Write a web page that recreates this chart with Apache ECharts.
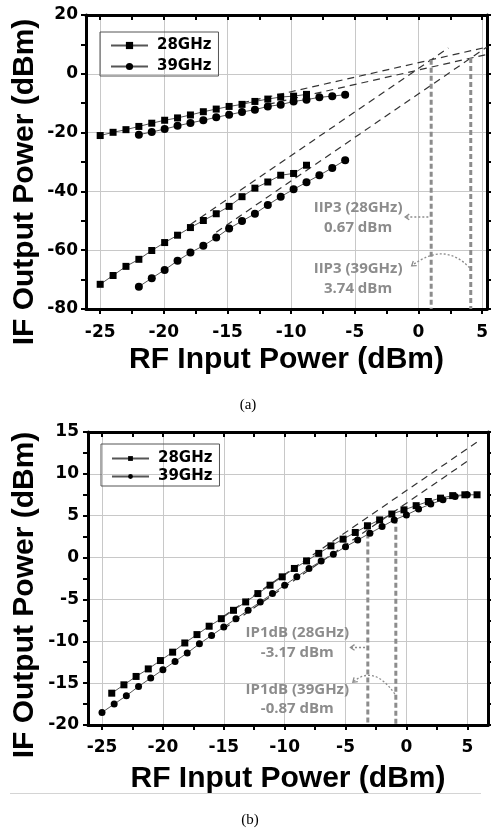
<!DOCTYPE html>
<html><head><meta charset="utf-8">
<script src="https://cdn.jsdelivr.net/npm/echarts@6/dist/echarts.min.js"></script>
<style>html,body{margin:0;padding:0;background:#fff}#c{width:491px;height:829px}</style>
</head><body><div id="c"></div>
<script>
// ================= DATA (a) : IIP3 =================
const xA28 = [-25,-24,-23,-22,-21,-20,-19,-18,-17,-16,-15,-14,-13,-12,-11,-10,-9];
const fundA28 = [-21.0,-19.9,-19.0,-17.9,-16.8,-15.8,-15.0,-14.0,-12.9,-12.0,-11.1,-10.4,-9.4,-8.6,-7.9,-7.6,-7.0];
const im3A28 = [-71.6,-68.6,-65.5,-63.1,-60.1,-57.4,-54.9,-52.3,-49.9,-47.6,-45.1,-41.8,-38.9,-36.8,-34.5,-33.9,-31.1];
const xA39 = [-22,-21,-20,-19,-18,-17,-16,-15,-14,-13,-12,-11,-10,-9,-8,-7,-6];
const fundA39 = [-20.7,-19.8,-18.8,-17.7,-16.7,-15.8,-14.8,-13.9,-13.0,-12.2,-11.1,-10.5,-9.4,-8.8,-8.0,-7.6,-7.1];
const im3A39 = [-72.4,-69.5,-66.7,-63.6,-60.8,-58.5,-55.7,-52.6,-50.1,-47.6,-44.6,-41.8,-39.3,-36.9,-34.5,-32.0,-29.4];
// extrapolated fit lines (endpoints)
const fitA28Fund = [[-14,-9.9],[5,9.1]];
const fitA39Fund = [[-12,-10.4],[5,6.6]];
const fitA28IM3 = [[-18,-51.24],[2,8.76]];
const fitA39IM3 = [[-16,-53.88],[5,9.12]];
const iip3X = [0.67, 3.74];
const iip3Y = [4.77, 5.34];
const notesA = [['IIP3 (28GHz)',-5.0,-45.4],['0.67 dBm',-5.0,-52.2],['IIP3 (39GHz)',-5.0,-66.4],['3.74 dBm',-5.0,-73.2]];
const arrowsA = [ {from:[0.45,-48.7], to:[-1.35,-48.7]}, {from:[3.65,-66.0], ctrl:[1.7,-56.9], to:[-0.84,-65.3]} ];

// ================= DATA (b) : IP1dB =================
const xB28 = [-24.2,-23.2,-22.2,-21.2,-20.2,-19.2,-18.2,-17.2,-16.2,-15.2,-14.2,-13.2,-12.2,-11.2,-10.2,-9.2,-8.2,-7.2,-6.2,-5.2,-4.2,-3.2,-2.2,-1.2,-0.2,0.8,1.8,2.8,3.8,4.8,5.8];
const poutB28 = [-16.2,-15.2,-14.2,-13.3,-12.3,-11.3,-10.2,-9.2,-8.2,-7.3,-6.3,-5.3,-4.3,-3.3,-2.3,-1.3,-0.4,0.5,1.4,2.2,3.0,3.8,4.5,5.2,5.7,6.2,6.7,7.1,7.4,7.5,7.5];
const xB39 = [-25,-24,-23,-22,-21,-20,-19,-18,-17,-16,-15,-14,-13,-12,-11,-10,-9,-8,-7,-6,-5,-4,-3,-2,-1,0,1,2,3,4,5];
const poutB39 = [-18.5,-17.5,-16.5,-15.4,-14.4,-13.4,-12.4,-11.4,-10.3,-9.3,-8.3,-7.3,-6.3,-5.3,-4.3,-3.3,-2.3,-1.3,-0.4,0.4,1.3,2.1,2.9,3.7,4.5,5.1,5.8,6.4,6.9,7.3,7.5];
const fitB28 = [[-15,-7.0],[6,14.0]];
const fitB39 = [[-15,-8.5],[5.2,11.7]];
const ip1dbX = [-3.17, -0.87];
const ip1dbY = [3.83, 4.63];
const notesB = [['IP1dB (28GHz)',-8.96,-8.95],['-3.17 dBm',-8.96,-11.34],['IP1dB (39GHz)',-8.96,-15.75],['-0.87 dBm',-8.96,-18.1]];
const arrowsB = [ {from:[-3.4,-10.74], to:[-4.6,-10.74]}, {from:[-0.95,-16.3], ctrl:[-2.7,-12.7], to:[-4.4,-14.9]} ];

const legendNames = ['28GHz','39GHz'];

// ================= AXIS RANGES =================
const AX = {min:-26.1, max:5}, AY = {min:-80, max:20, interval:20};
const BX = {min:-26.15, max:6.7}, BY = {min:-20, max:15, interval:5};
const TICK_X = {min:-25, max:5, interval:5};

// ================= LAYOUT =================
const GA = {left:86, top:15, width:401, height:294};
const GB = {left:88, top:432, width:400, height:293};
function overlay(g, r){
  const w = g.width/(r.max-r.min);
  return {left: g.left + (TICK_X.min-r.min)*w, top:g.top, width:(TICK_X.max-TICK_X.min)*w, height:g.height};
}
const OA = overlay(GA, AX), OB = overlay(GB, BX);

const tickFont = {fontFamily:'DejaVu Sans', fontWeight:'bold', fontSize:17, color:'#000'};
const titleFont = {fontFamily:'Liberation Sans, Arial', fontWeight:'bold', fontSize:30, color:'#000'};
const frameLine = {show:true, onZero:false, lineStyle:{color:'#000', width:3}};
const tickStyle = {lineStyle:{color:'#000', width:2}};
const gridLine = {show:true, lineStyle:{color:'#c8c8c8', width:1}};

function mainX(gi, r, pos, name, gap){
  const o = {gridIndex:gi, type:'value', min:r.min, max:r.max, position:pos,
    axisLine:frameLine, axisTick:{show:false}, axisLabel:{show:false}, splitLine:{show:false}};
  if (name){ Object.assign(o,{name:name, nameLocation:'middle', nameGap:gap, nameTextStyle:titleFont}); }
  return o;
}
function tickX(gi, pos, inside, margin){
  return {gridIndex:gi, type:'value', min:TICK_X.min, max:TICK_X.max, interval:TICK_X.interval, position:pos,
    axisLine:{show:false, onZero:false},
    axisTick:Object.assign({show:true, inside:inside, length:5}, tickStyle),
    minorTick:Object.assign({show:true, splitNumber:2, length:5}, tickStyle),
    axisLabel: pos==='bottom' ? Object.assign({show:true, margin:margin}, tickFont) : {show:false},
    splitLine: pos==='bottom' ? gridLine : {show:false}};
}
function mainY(gi, r, pos, margin){
  return {gridIndex:gi, type:'value', min:r.min, max:r.max, interval:r.interval, position:pos,
    axisLine:frameLine,
    axisTick:Object.assign({show:true, inside:false, length:5}, tickStyle),
    minorTick:Object.assign({show:true, splitNumber:2, length:5}, tickStyle),
    axisLabel: pos==='left' ? Object.assign({show:true, margin:margin}, tickFont) : {show:false},
    splitLine: pos==='left' ? gridLine : {show:false}};
}

const zip = (xs, ys) => xs.map((x,i)=>[x, ys[i]]);
function dataSeries(name, xs, ys, sym, size, xi, yi){
  return {name:name, type:'line', xAxisIndex:xi, yAxisIndex:yi, data:zip(xs,ys), symbol:sym, symbolSize:size,
    showSymbol:true, itemStyle:{color:'#000'}, lineStyle:{color:'#555', width:1}, z:5, silent:true};
}
function fitSeries(pts, xi, yi){
  return {name:'fit', type:'line', xAxisIndex:xi, yAxisIndex:yi, data:pts, symbol:'none',
    lineStyle:{color:'#333', width:1.2, type:[7,5]}, z:3, silent:true};
}
function vSeries(x, yTop, yBottom, xi, yi){
  return {name:'marker', type:'line', xAxisIndex:xi, yAxisIndex:yi, data:[[x,yTop],[x,yBottom]], symbol:'none',
    lineStyle:{color:'#8c8c8c', width:3, type:[5,3]}, z:4, silent:true};
}

const series = [
  fitSeries(fitA28Fund,0,0), fitSeries(fitA39Fund,0,0), fitSeries(fitA28IM3,0,0), fitSeries(fitA39IM3,0,0),
  vSeries(iip3X[0], iip3Y[0], AY.min, 0, 0), vSeries(iip3X[1], iip3Y[1], AY.min, 0, 0),
  dataSeries('28GHz', xA28, fundA28, 'rect', 7, 0, 0),
  dataSeries('28GHz', xA28, im3A28, 'rect', 7, 0, 0),
  dataSeries('39GHz', xA39, fundA39, 'circle', 8, 0, 0),
  dataSeries('39GHz', xA39, im3A39, 'circle', 8, 0, 0),
  fitSeries(fitB28,2,2), fitSeries(fitB39,2,2),
  vSeries(ip1dbX[0], ip1dbY[0], BY.min, 2, 2), vSeries(ip1dbX[1], ip1dbY[1], BY.min, 2, 2),
  dataSeries('28GHz', xB28, poutB28, 'rect', 7, 2, 2),
  dataSeries('39GHz', xB39, poutB39, 'circle', 7, 2, 2)
];

function legend(left, top, itemH, gap, pad){
  return {data:legendNames, orient:'vertical', left:left, top:top, itemWidth:37, itemHeight:itemH, itemGap:gap,
    padding:pad, borderColor:'#555', borderWidth:1, borderRadius:0, selectedMode:false,
    textStyle:{fontFamily:'DejaVu Sans', fontWeight:'bold', fontSize:15, color:'#000', padding:[0,0,0,4]}};
}

const chart = echarts.init(document.getElementById('c'));
chart.setOption({
  animation:false,
  backgroundColor:'#fff',
  grid:[GA, GB, OA, OB].map(g=>Object.assign({containLabel:false}, g)),
  xAxis:[
    mainX(0, AX, 'bottom', 'RF Input Power (dBm)', 36),
    mainX(0, AX, 'top'),
    mainX(1, BX, 'bottom', 'RF Input Power (dBm)', 39),
    mainX(1, BX, 'top'),
    tickX(2, 'bottom', false, 15),
    tickX(2, 'top', true, 0),
    tickX(3, 'bottom', false, 14),
    tickX(3, 'top', true, 0)
  ],
  yAxis:[
    mainY(0, AY, 'left', 8),
    mainY(0, AY, 'right'),
    mainY(1, BY, 'left', 9),
    mainY(1, BY, 'right'),
    {gridIndex:2, type:'value', min:0, max:1, show:false},
    {gridIndex:3, type:'value', min:0, max:1, show:false}
  ],
  legend:[ legend(100, 32, 9, 6, [6,7,2,10]), legend(101, 444, 6, 3, [7,7,2,10]) ],
  series:series
});

// ================= annotations (positions from data via axes) =================
const noteFont = 'bold 15px "Open Sans"';
const gray = '#8c8c8c';
const gfx = [];
function addNotes(notes, xi, yi){
  notes.forEach(n=>{
    const p = chart.convertToPixel({xAxisIndex:xi, yAxisIndex:yi}, [n[1], n[2]]);
    gfx.push({type:'text', x:p[0], y:p[1], z:10, style:{text:n[0], font:noteFont, fill:gray, align:'center', verticalAlign:'middle'}});
  });
}
function addArrows(arrows, xi, yi){
  arrows.forEach(a=>{
    const f = chart.convertToPixel({xAxisIndex:xi, yAxisIndex:yi}, a.from);
    const t = chart.convertToPixel({xAxisIndex:xi, yAxisIndex:yi}, a.to);
    let dirFrom = f;
    if (a.ctrl){
      const c = chart.convertToPixel({xAxisIndex:xi, yAxisIndex:yi}, a.ctrl);
      gfx.push({type:'bezierCurve', z:10, shape:{x1:f[0],y1:f[1],x2:t[0],y2:t[1],cpx1:c[0],cpy1:c[1]},
        style:{stroke:gray, lineWidth:1.3, lineDash:[2,2], fill:null}});
      dirFrom = c;
    } else {
      gfx.push({type:'line', z:10, shape:{x1:f[0],y1:f[1],x2:t[0],y2:t[1]}, style:{stroke:gray, lineWidth:1.3, lineDash:[2,2]}});
    }
    const ang = Math.atan2(t[1]-dirFrom[1], t[0]-dirFrom[0]);
    const L = 5, s = 0.6;
    const p1 = [t[0]-L*Math.cos(ang-s), t[1]-L*Math.sin(ang-s)];
    const p2 = [t[0]-L*Math.cos(ang+s), t[1]-L*Math.sin(ang+s)];
    gfx.push({type:'polyline', z:10, shape:{points:[p1,t,p2]}, style:{stroke:gray, lineWidth:1.3, fill:null}});
  });
}
addNotes(notesA, 0, 0); addNotes(notesB, 2, 2);
addArrows(arrowsA, 0, 0); addArrows(arrowsB, 2, 2);

const yTitle = 'IF Output Power (dBm)';
gfx.push({type:'text', x:25, y:182, rotation:Math.PI/2, style:{text:yTitle, font:'bold 30px "Liberation Sans"', fill:'#000', align:'center', verticalAlign:'middle'}});
gfx.push({type:'text', x:25, y:595, rotation:Math.PI/2, style:{text:yTitle, font:'bold 30px "Liberation Sans"', fill:'#000', align:'center', verticalAlign:'middle'}});
gfx.push({type:'text', x:248, y:405, style:{text:'(a)', font:'15px "Liberation Serif"', fill:'#000', align:'center', verticalAlign:'middle'}});
gfx.push({type:'text', x:250, y:820, style:{text:'(b)', font:'15px "Liberation Serif"', fill:'#000', align:'center', verticalAlign:'middle'}});
gfx.push({type:'line', shape:{x1:10, y1:793.5, x2:481, y2:793.5}, style:{stroke:'#d4d4d4', lineWidth:1}});

chart.setOption({graphic:gfx});
</script>
</body></html>
